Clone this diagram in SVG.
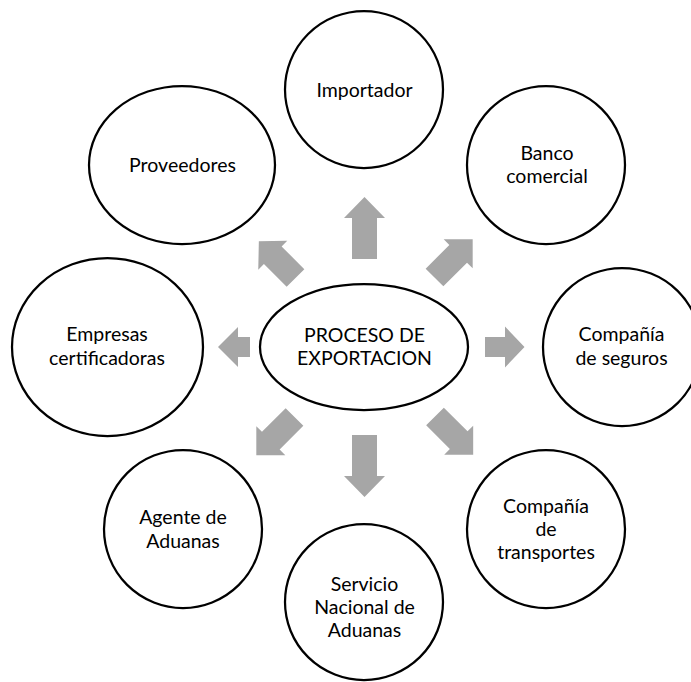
<svg xmlns="http://www.w3.org/2000/svg" width="691" height="682" viewBox="0 0 691 682">
  <defs>
    <style>
      .node ellipse { fill: #FFFFFF; stroke: #000000; stroke-width: 2.25; }
      .node text { font-family: Lato, "Open Sans", "Liberation Sans", sans-serif; font-size: 19.5px; fill: #000000; text-anchor: middle; }
      .arrow { fill: #A6A6A6; stroke: none; }
    </style>
    <path id="diag" d="M0,-12.5 L33.5,-12.5 L33.5,-20.5 L54,0 L33.5,20.5 L33.5,12.5 L0,12.5 Z"/>
  </defs>
  <rect x="0" y="0" width="691" height="682" fill="#FFFFFF"/>

  <g id="connectors">
    <polygon class="arrow" points="352,259 352,218 344,218 364.5,197 385,218 377,218 377,259"/>
    <polygon class="arrow" points="352,435 377,435 377,476 385,476 364.5,497 344,476 352,476"/>
    <polygon class="arrow" points="485,337 505,337 505,326.5 524.5,347 505,367.5 505,357 485,357"/>
    <polygon class="arrow" points="250,337 238,337 238,327 218,347 238,367 238,357 250,357"/>
    <use href="#diag" class="arrow" transform="translate(434.5,277.5) rotate(-45)"/>
    <use href="#diag" class="arrow" transform="translate(295.5,278) rotate(-135) scale(0.96,1)"/>
    <use href="#diag" class="arrow" transform="translate(294.5,417) rotate(135)"/>
    <use href="#diag" class="arrow" transform="translate(435,416.5) rotate(45)"/>
  </g>

  <g id="importador" class="node">
    <ellipse cx="364" cy="89.5" rx="79" ry="78.5"/>
    <text x="364.5" y="96.5">Importador</text>
  </g>
  <g id="proveedores" class="node">
    <ellipse cx="182" cy="165" rx="93" ry="79"/>
    <text x="182.5" y="172">Proveedores</text>
  </g>
  <g id="banco" class="node">
    <ellipse cx="546" cy="165" rx="79" ry="79"/>
    <text x="547" y="159.5">Banco</text>
    <text x="547" y="183">comercial</text>
  </g>
  <g id="empresas" class="node">
    <ellipse cx="107.5" cy="347" rx="95.5" ry="89"/>
    <text x="107" y="341">Empresas</text>
    <text x="107" y="364.5">certificadoras</text>
  </g>
  <g id="proceso" class="node">
    <ellipse cx="364" cy="347" rx="104" ry="63"/>
    <text x="364.5" y="341.5">PROCESO DE</text>
    <text x="364.5" y="365">EXPORTACION</text>
  </g>
  <g id="seguros" class="node">
    <ellipse cx="622" cy="347" rx="79" ry="79"/>
    <text x="621.5" y="341">Compañía</text>
    <text x="621.5" y="364.5">de seguros</text>
  </g>
  <g id="agente" class="node">
    <ellipse cx="183" cy="529" rx="79" ry="79"/>
    <text x="183" y="524">Agente de</text>
    <text x="183" y="548">Aduanas</text>
  </g>
  <g id="servicio" class="node">
    <ellipse cx="364" cy="602" rx="79" ry="78"/>
    <text x="364.5" y="591">Servicio</text>
    <text x="364.5" y="614">Nacional de</text>
    <text x="364.5" y="637">Aduanas</text>
  </g>
  <g id="transportes" class="node">
    <ellipse cx="546" cy="529" rx="79" ry="79"/>
    <text x="546" y="513">Compañía</text>
    <text x="546" y="536">de</text>
    <text x="546" y="559">transportes</text>
  </g>
</svg>
